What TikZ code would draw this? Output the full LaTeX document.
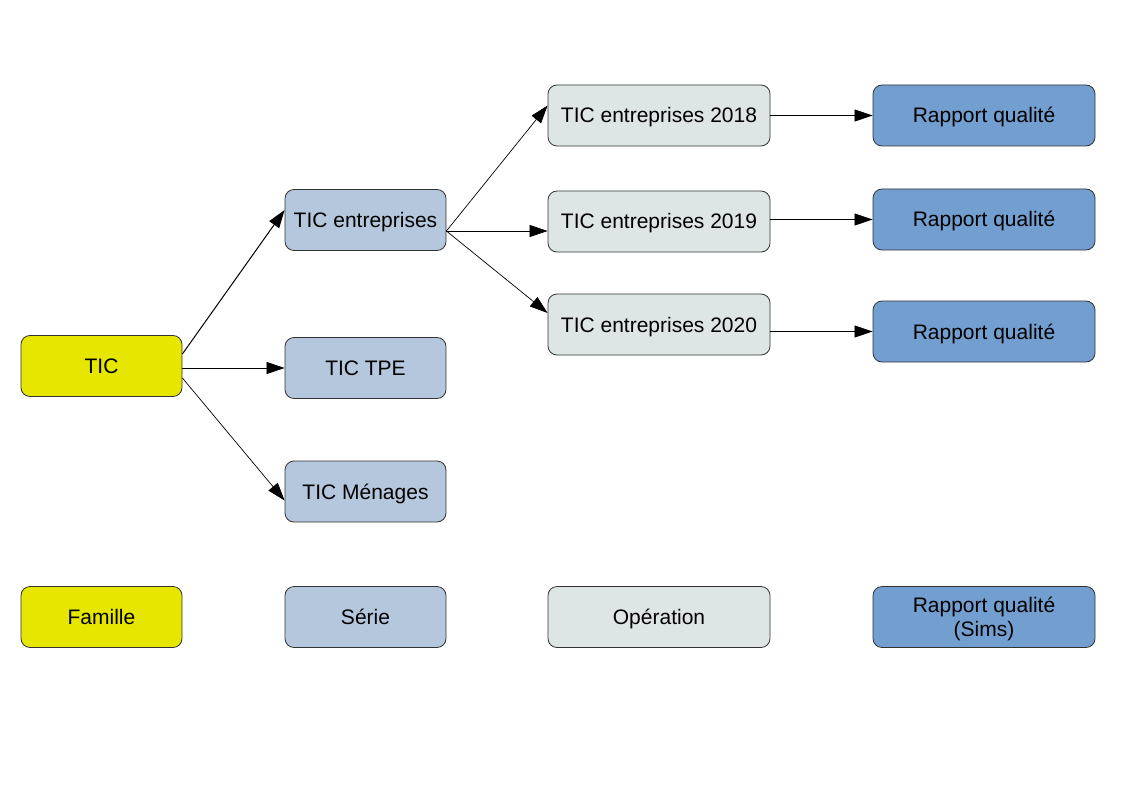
\documentclass[tikz,border=0pt]{standalone}
\usepackage{fontspec}
\setmainfont{Liberation Sans}
\usetikzlibrary{arrows.meta}
\definecolor{famc}{RGB}{230,230,0}
\definecolor{serc}{RGB}{180,199,220}
\definecolor{opc}{RGB}{222,230,229}
\definecolor{rapc}{RGB}{114,159,207}
\begin{document}
\begin{tikzpicture}[x=1pt,y=-1pt,
  box/.style={draw=black!80,line width=0.8pt,rounded corners=9pt,minimum height=61pt,inner sep=0pt,align=center,
    font=\fontsize{21}{24}\selectfont},
  one/.style={text height=17pt,text depth=2pt},
  fam/.style={box,fill=famc,minimum width=161pt},
  ser/.style={box,fill=serc,minimum width=161pt},
  ope/.style={box,fill=opc,minimum width=222pt},
  rap/.style={box,fill=rapc,minimum width=222pt},
  conn/.style={-{Triangle[length=18pt,width=12pt]},line width=0.7pt},
  connb/.style={-{Triangle[length=18pt,width=12pt]},line width=1pt}]
\useasboundingbox (0,0) rectangle (1123,794);
\node[fam,one] (tic) at (101.5,366) {TIC};
\node[ser,one] (ent) at (365.5,220) {TIC entreprises};
\node[ser,one] (tpe) at (365.5,368) {TIC TPE};
\node[ser,one] (men) at (365.5,491.5) {TIC Ménages};
\node[ope,one] (o18) at (659,115.5) {TIC entreprises 2018};
\node[ope,one] (o19) at (659,221.5) {TIC entreprises 2019};
\node[ope,one] (o20) at (659,324.5) {TIC entreprises 2020};
\node[rap,one] (r18) at (984,115.5) {Rapport qualité};
\node[rap,one] (r19) at (984,219.5) {Rapport qualité};
\node[rap,one] (r20) at (984,331.5) {Rapport qualité};
% legend
\node[fam,one] (lfam) at (101.5,617) {Famille};
\node[ser,one] (lser) at (365.5,617) {Série};
\node[ope,one] (lope) at (659,617) {Opération};
\node[rap] (lrap) at (984,617) {};
\node[font=\fontsize{21}{24}\selectfont,align=center,inner sep=0pt] (lraptxt) at (984,619) {Rapport qualité\\(Sims)};
% connectors
\coordinate (ticA) at ([yshift=12pt]tic.east);
\coordinate (ticB) at ([yshift=-12pt]tic.east);
\coordinate (entA) at ([yshift=-11pt]ent.east);
\draw[connb] (ticA) -- ([yshift=10pt]ent.west);
\draw[conn] (tic.east |- tpe.west) -- (tpe.west);
\draw[conn] (ticB) -- ([yshift=-9pt]men.west);
\draw[conn] (entA) -- ([yshift=10pt]o18.west);
\draw[conn] (entA) -- ([yshift=-9.5pt]o19.west);
\draw[conn] (entA) -- ([yshift=11.5pt]o20.west);
\draw[conn] (o18.east) -- (r18.west);
\draw[conn] (o19.east |- r19.west) -- (r19.west);
\draw[conn] (o20.east |- r20.west) -- (r20.west);
\end{tikzpicture}
\end{document}
